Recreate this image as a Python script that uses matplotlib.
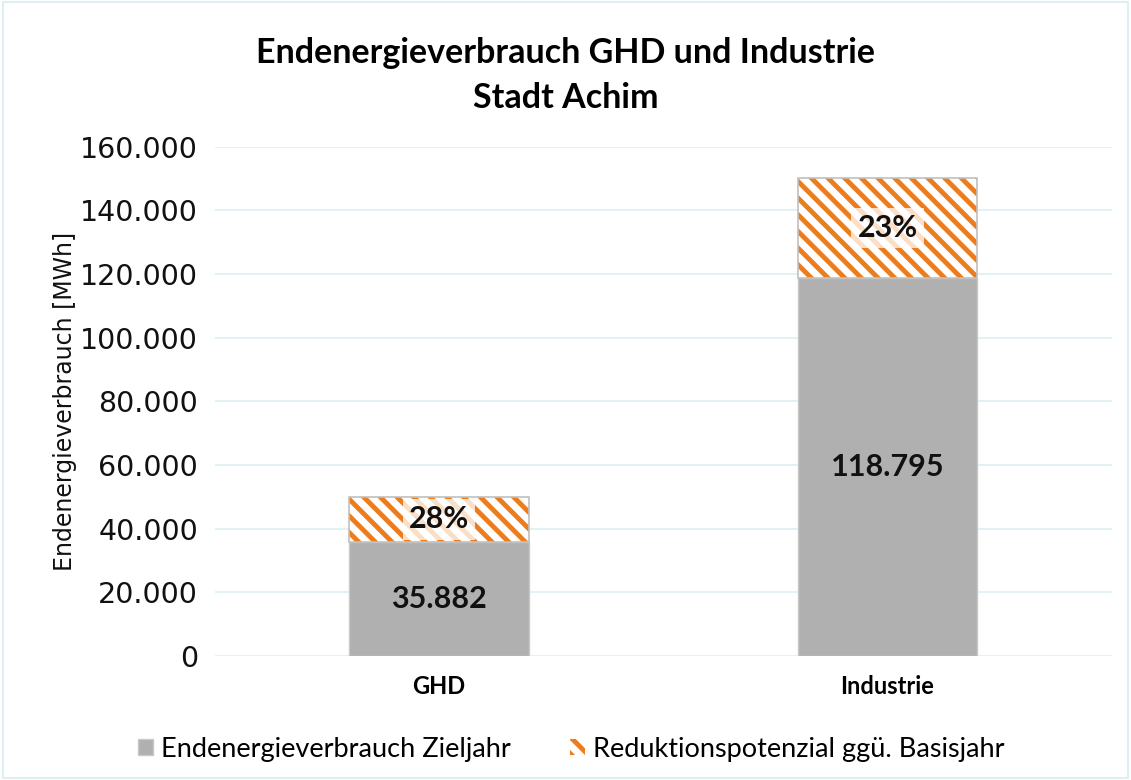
import matplotlib.pyplot as plt
from matplotlib.patches import Rectangle
from matplotlib.ticker import FuncFormatter

plt.rcParams['font.family'] = ['Lato', 'DejaVu Sans']
plt.rcParams['hatch.linewidth'] = 3.5

categories = ['GHD', 'Industrie']
zieljahr = [35882, 118795]
reduktion = [14000, 31200]
reduktion_labels = ['28%', '23%']

grey = '#B0B0B0'
orange = '#EC7D1F'
grid_col = '#DDF0F2'

fig = plt.figure(figsize=(11.31, 7.80), dpi=100)
ax = fig.add_axes([0.19, 0.159, 0.793, 0.653])

x = [0, 1]
width = 0.4
ax.bar(x, zieljahr, width, color=grey, edgecolor='#C8C8C8', linewidth=1,
       label='Endenergieverbrauch Zieljahr', zorder=3)
ax.bar(x, reduktion, width, bottom=zieljahr, color='white', edgecolor=orange,
       hatch='\\\\', linewidth=0, label='Reduktionspotenzial ggü. Basisjahr', zorder=3)
# grey outline around hatched part
for xi, b, h in zip(x, zieljahr, reduktion):
    ax.add_patch(Rectangle((xi - width / 2, b), width, h, fill=False,
                           edgecolor='#C0C0C0', linewidth=1.2, zorder=4))

for xi, v in zip(x, zieljahr):
    ax.text(xi, v / 2, f'{v:,}'.replace(',', '.'), ha='center', va='center',
            fontsize=22, fontweight='bold', color='#111111', zorder=5)
for xi, b, h, lab in zip(x, zieljahr, reduktion, reduktion_labels):
    ax.text(xi, b + h / 2, lab, ha='center', va='center', fontsize=22,
            fontweight='bold', color='#111111', zorder=5,
            bbox=dict(boxstyle='square,pad=0.2', facecolor='white', alpha=0.75, edgecolor='none'))

ax.set_xlim(-0.5, 1.5)
ax.set_ylim(0, 160000)
ax.set_yticks(range(0, 160001, 20000))
ax.yaxis.set_major_formatter(FuncFormatter(lambda v, p: f'{int(v):,}'.replace(',', '.')))
ax.set_xticks(x)
ax.set_xticklabels(categories, fontsize=17, fontweight='bold')
for t in ax.get_yticklabels():
    t.set_family('DejaVu Sans')
ax.tick_params(axis='y', labelsize=20.5, length=0, pad=12, colors='#111111')
ax.tick_params(axis='x', length=0, pad=14)
ax.grid(axis='y', color=grid_col, linewidth=1.2, zorder=0)
for s in ax.spines.values():
    s.set_visible(False)
ax.set_ylabel('Endenergieverbrauch [MWh]', fontsize=17, labelpad=2, color='#111111',
              family='DejaVu Sans')

fig.suptitle('Endenergieverbrauch GHD und Industrie\nStadt Achim', x=0.5, y=0.952,
             fontsize=24.5, fontweight='bold', linespacing=1.5)

fig.legend(loc='lower center', bbox_to_anchor=(0.505, -0.008), ncol=2, frameon=False,
           fontsize=19.5, handlelength=0.55, handleheight=0.55, handletextpad=0.3,
           columnspacing=2.2)

fig.patches.append(Rectangle((0.003, 0.003), 0.994, 0.994, transform=fig.transFigure,
                             fill=False, edgecolor='#DDEFF2', linewidth=1.5))

fig.savefig('out.png', dpi=100)
